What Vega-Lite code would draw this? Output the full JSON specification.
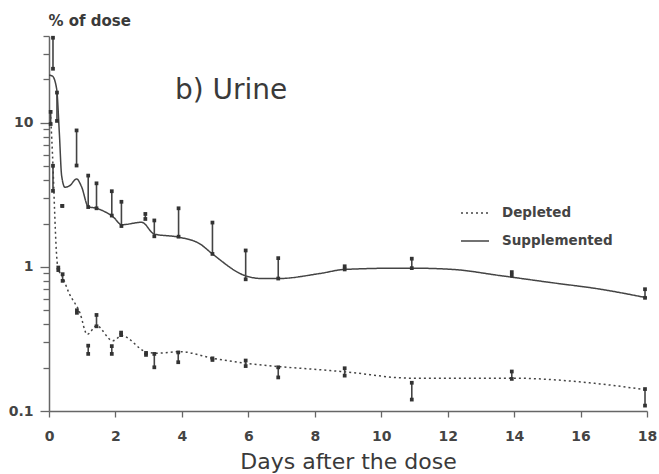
{
  "$schema": "https://vega.github.io/schema/vega-lite/v6.json",
  "width": 598,
  "height": 375,
  "autosize": {"type": "none"},
  "padding": {"left": 49, "top": 36, "right": 12, "bottom": 63},
  "background": "white",
  "config": {
    "view": {"stroke": null},
    "font": "DejaVu Sans",
    "axis": {"domainColor": "#666", "tickColor": "#666", "labelColor": "#444", "titleColor": "#3a3a3a", "domainWidth": 1.5, "tickWidth": 1.3, "grid": false, "labelFont": "DejaVu Sans", "titleFont": "DejaVu Sans"}
  },
  "datasets": {
    "curves": [
      {"series": "Supplemented", "day": 0, "pct": 21.4},
      {"series": "Supplemented", "day": 0.1, "pct": 21.1},
      {"series": "Supplemented", "day": 0.23, "pct": 17.2},
      {"series": "Supplemented", "day": 0.31, "pct": 8.6},
      {"series": "Supplemented", "day": 0.38, "pct": 4.3},
      {"series": "Supplemented", "day": 0.48, "pct": 3.57},
      {"series": "Supplemented", "day": 0.63, "pct": 3.67},
      {"series": "Supplemented", "day": 0.83, "pct": 4.08},
      {"series": "Supplemented", "day": 0.98, "pct": 3.6},
      {"series": "Supplemented", "day": 1.18, "pct": 2.62},
      {"series": "Supplemented", "day": 1.43, "pct": 2.55},
      {"series": "Supplemented", "day": 1.94, "pct": 2.21},
      {"series": "Supplemented", "day": 2.19, "pct": 1.96},
      {"series": "Supplemented", "day": 2.79, "pct": 2.04},
      {"series": "Supplemented", "day": 3.17, "pct": 1.69},
      {"series": "Supplemented", "day": 3.89, "pct": 1.61},
      {"series": "Supplemented", "day": 4.55, "pct": 1.44},
      {"series": "Supplemented", "day": 4.92, "pct": 1.23},
      {"series": "Supplemented", "day": 5.9, "pct": 0.87},
      {"series": "Supplemented", "day": 6.41, "pct": 0.83},
      {"series": "Supplemented", "day": 6.9, "pct": 0.83},
      {"series": "Supplemented", "day": 8.16, "pct": 0.9},
      {"series": "Supplemented", "day": 8.9, "pct": 0.96},
      {"series": "Supplemented", "day": 10.57, "pct": 0.98},
      {"series": "Supplemented", "day": 10.9, "pct": 0.98},
      {"series": "Supplemented", "day": 12.16, "pct": 0.96},
      {"series": "Supplemented", "day": 13.58, "pct": 0.87},
      {"series": "Supplemented", "day": 15.08, "pct": 0.78},
      {"series": "Supplemented", "day": 16.6, "pct": 0.7},
      {"series": "Supplemented", "day": 18, "pct": 0.61},
      {"series": "Depleted", "day": 0.05, "pct": 11},
      {"series": "Depleted", "day": 0.12, "pct": 5.0},
      {"series": "Depleted", "day": 0.17, "pct": 2.4},
      {"series": "Depleted", "day": 0.22, "pct": 1.3},
      {"series": "Depleted", "day": 0.27, "pct": 0.98},
      {"series": "Depleted", "day": 0.4, "pct": 0.86},
      {"series": "Depleted", "day": 0.6, "pct": 0.66},
      {"series": "Depleted", "day": 0.93, "pct": 0.48},
      {"series": "Depleted", "day": 1.15, "pct": 0.34},
      {"series": "Depleted", "day": 1.43, "pct": 0.39},
      {"series": "Depleted", "day": 1.92, "pct": 0.307},
      {"series": "Depleted", "day": 2.19, "pct": 0.333},
      {"series": "Depleted", "day": 2.94, "pct": 0.256},
      {"series": "Depleted", "day": 3.24, "pct": 0.252},
      {"series": "Depleted", "day": 3.94, "pct": 0.258},
      {"series": "Depleted", "day": 4.94, "pct": 0.232},
      {"series": "Depleted", "day": 5.95, "pct": 0.214},
      {"series": "Depleted", "day": 6.95, "pct": 0.203},
      {"series": "Depleted", "day": 8.2, "pct": 0.193},
      {"series": "Depleted", "day": 8.9, "pct": 0.187},
      {"series": "Depleted", "day": 10.9, "pct": 0.169},
      {"series": "Depleted", "day": 13.9, "pct": 0.169},
      {"series": "Depleted", "day": 16.6, "pct": 0.154},
      {"series": "Depleted", "day": 18, "pct": 0.14}
    ],
    "bars": [
      {"series": "Supplemented", "day": 0.12, "low": 23.7, "high": 38.9},
      {"series": "Supplemented", "day": 0.24, "low": 10.3, "high": 16.2},
      {"series": "Supplemented", "day": 0.4, "low": 2.65, "high": 2.65},
      {"series": "Supplemented", "day": 0.83, "low": 5.05, "high": 8.85},
      {"series": "Supplemented", "day": 1.18, "low": 2.6, "high": 4.3},
      {"series": "Supplemented", "day": 1.43, "low": 2.55, "high": 3.8},
      {"series": "Supplemented", "day": 1.89, "low": 2.27, "high": 3.35},
      {"series": "Supplemented", "day": 2.18, "low": 1.92, "high": 2.83},
      {"series": "Supplemented", "day": 2.9, "low": 2.15, "high": 2.33},
      {"series": "Supplemented", "day": 3.17, "low": 1.63, "high": 2.1},
      {"series": "Supplemented", "day": 3.9, "low": 1.62, "high": 2.55},
      {"series": "Supplemented", "day": 4.92, "low": 1.23, "high": 2.03},
      {"series": "Supplemented", "day": 5.92, "low": 0.82, "high": 1.3},
      {"series": "Supplemented", "day": 6.9, "low": 0.83, "high": 1.15},
      {"series": "Supplemented", "day": 8.9, "low": 0.96, "high": 1.01},
      {"series": "Supplemented", "day": 10.92, "low": 0.98, "high": 1.14},
      {"series": "Supplemented", "day": 13.93, "low": 0.87, "high": 0.92},
      {"series": "Supplemented", "day": 17.94, "low": 0.61, "high": 0.7},
      {"series": "Depleted", "day": 0.05, "low": 9.8, "high": 11.9},
      {"series": "Depleted", "day": 0.12, "low": 3.37, "high": 5.03},
      {"series": "Depleted", "day": 0.28, "low": 0.95, "high": 0.99},
      {"series": "Depleted", "day": 0.41, "low": 0.8, "high": 0.89},
      {"series": "Depleted", "day": 0.84, "low": 0.48, "high": 0.5},
      {"series": "Depleted", "day": 1.18, "low": 0.249, "high": 0.284},
      {"series": "Depleted", "day": 1.43, "low": 0.387, "high": 0.464},
      {"series": "Depleted", "day": 1.89, "low": 0.249, "high": 0.282},
      {"series": "Depleted", "day": 2.17, "low": 0.336, "high": 0.35},
      {"series": "Depleted", "day": 2.92, "low": 0.245, "high": 0.253},
      {"series": "Depleted", "day": 3.17, "low": 0.201, "high": 0.249},
      {"series": "Depleted", "day": 3.89, "low": 0.218, "high": 0.255},
      {"series": "Depleted", "day": 4.92, "low": 0.226, "high": 0.232},
      {"series": "Depleted", "day": 5.92, "low": 0.205, "high": 0.224},
      {"series": "Depleted", "day": 6.9, "low": 0.171, "high": 0.201},
      {"series": "Depleted", "day": 8.9, "low": 0.176, "high": 0.198},
      {"series": "Depleted", "day": 10.92, "low": 0.12, "high": 0.157},
      {"series": "Depleted", "day": 13.93, "low": 0.167, "high": 0.188},
      {"series": "Depleted", "day": 17.94, "low": 0.109, "high": 0.142}
    ],
    "labels": [
      {"label": "b) Urine", "day": 3.79, "pct": 14.7}
    ]
  },
  "layer": [
    {
      "data": {"name": "curves"},
      "mark": {"type": "line", "interpolate": "monotone", "strokeWidth": 1.5, "clip": true},
      "encoding": {
        "x": {"field": "day", "type": "quantitative", "scale": {"domain": [0, 18], "nice": false},
          "axis": {"values": [0, 2, 4, 6, 8, 10, 12, 14, 16, 18], "title": "Days after the dose", "titleFontSize": 22, "titleFontWeight": "normal", "titleY": 50, "titleBaseline": "middle", "labelFontSize": 14, "labelFontWeight": "bold", "tickSize": 6, "labelPadding": 12, "labelFlush": false}},
        "y": {"field": "pct", "type": "quantitative", "scale": {"type": "log", "domain": [0.1, 40], "nice": false},
          "axis": {"values": [0.1, 0.2, 0.3, 0.4, 0.5, 0.6, 0.7, 0.8, 0.9, 1, 2, 3, 4, 5, 6, 7, 8, 9, 10, 20, 30, 40],
            "labelExpr": "datum.value == 0.1 ? '0.1' : (datum.value == 1 ? '1' : (datum.value == 10 ? '10' : ''))",
            "tickSize": {"condition": {"test": "datum.value == 0.1 || datum.value == 1 || datum.value == 10", "value": 9}, "value": 6},
            "labelFontSize": 14, "labelFontWeight": "bold", "labelPadding": 7, "labelFlush": false,
            "title": "% of dose", "titleAngle": 0, "titleAlign": "left", "titleBaseline": "middle", "titleX": -1, "titleY": -16, "titleFontSize": 15, "titleFontWeight": "bold"}},
        "color": {"field": "series", "type": "nominal", "scale": {"domain": ["Depleted", "Supplemented"], "range": ["#444", "#444"]},
          "legend": {"title": null, "orient": "none", "legendX": 411, "legendY": 162, "symbolType": "stroke", "symbolSize": 784, "symbolStrokeWidth": 1.5, "labelFontSize": 13.5, "labelFontWeight": "bold", "labelColor": "#444", "labelOffset": 12, "rowPadding": 6, "padding": 0}},
        "strokeDash": {"field": "series", "type": "nominal", "scale": {"domain": ["Depleted", "Supplemented"], "range": [[2, 3], [1, 0]]},
          "legend": {"title": null, "orient": "none", "legendX": 411, "legendY": 162, "symbolType": "stroke", "symbolSize": 784, "symbolStrokeWidth": 1.5, "labelFontSize": 13.5, "labelFontWeight": "bold", "labelColor": "#444", "labelOffset": 12, "rowPadding": 6, "padding": 0}}
      }
    },
    {
      "data": {"name": "bars"},
      "mark": {"type": "rule", "color": "#444", "strokeWidth": 1.6},
      "encoding": {
        "x": {"field": "day", "type": "quantitative"},
        "y": {"field": "low", "type": "quantitative"},
        "y2": {"field": "high"}
      }
    },
    {
      "data": {"name": "bars"},
      "mark": {"type": "square", "color": "#333", "size": 14, "opacity": 1, "filled": true},
      "encoding": {
        "x": {"field": "day", "type": "quantitative"},
        "y": {"field": "low", "type": "quantitative"}
      }
    },
    {
      "data": {"name": "bars"},
      "mark": {"type": "square", "color": "#333", "size": 14, "opacity": 1, "filled": true},
      "encoding": {
        "x": {"field": "day", "type": "quantitative"},
        "y": {"field": "high", "type": "quantitative"}
      }
    },
    {
      "data": {"name": "labels"},
      "mark": {"type": "text", "fontSize": 28, "align": "left", "baseline": "alphabetic", "color": "#3a3a3a", "font": "DejaVu Sans"},
      "encoding": {
        "x": {"field": "day", "type": "quantitative"},
        "y": {"field": "pct", "type": "quantitative"},
        "text": {"field": "label"}
      }
    }
  ]
}
